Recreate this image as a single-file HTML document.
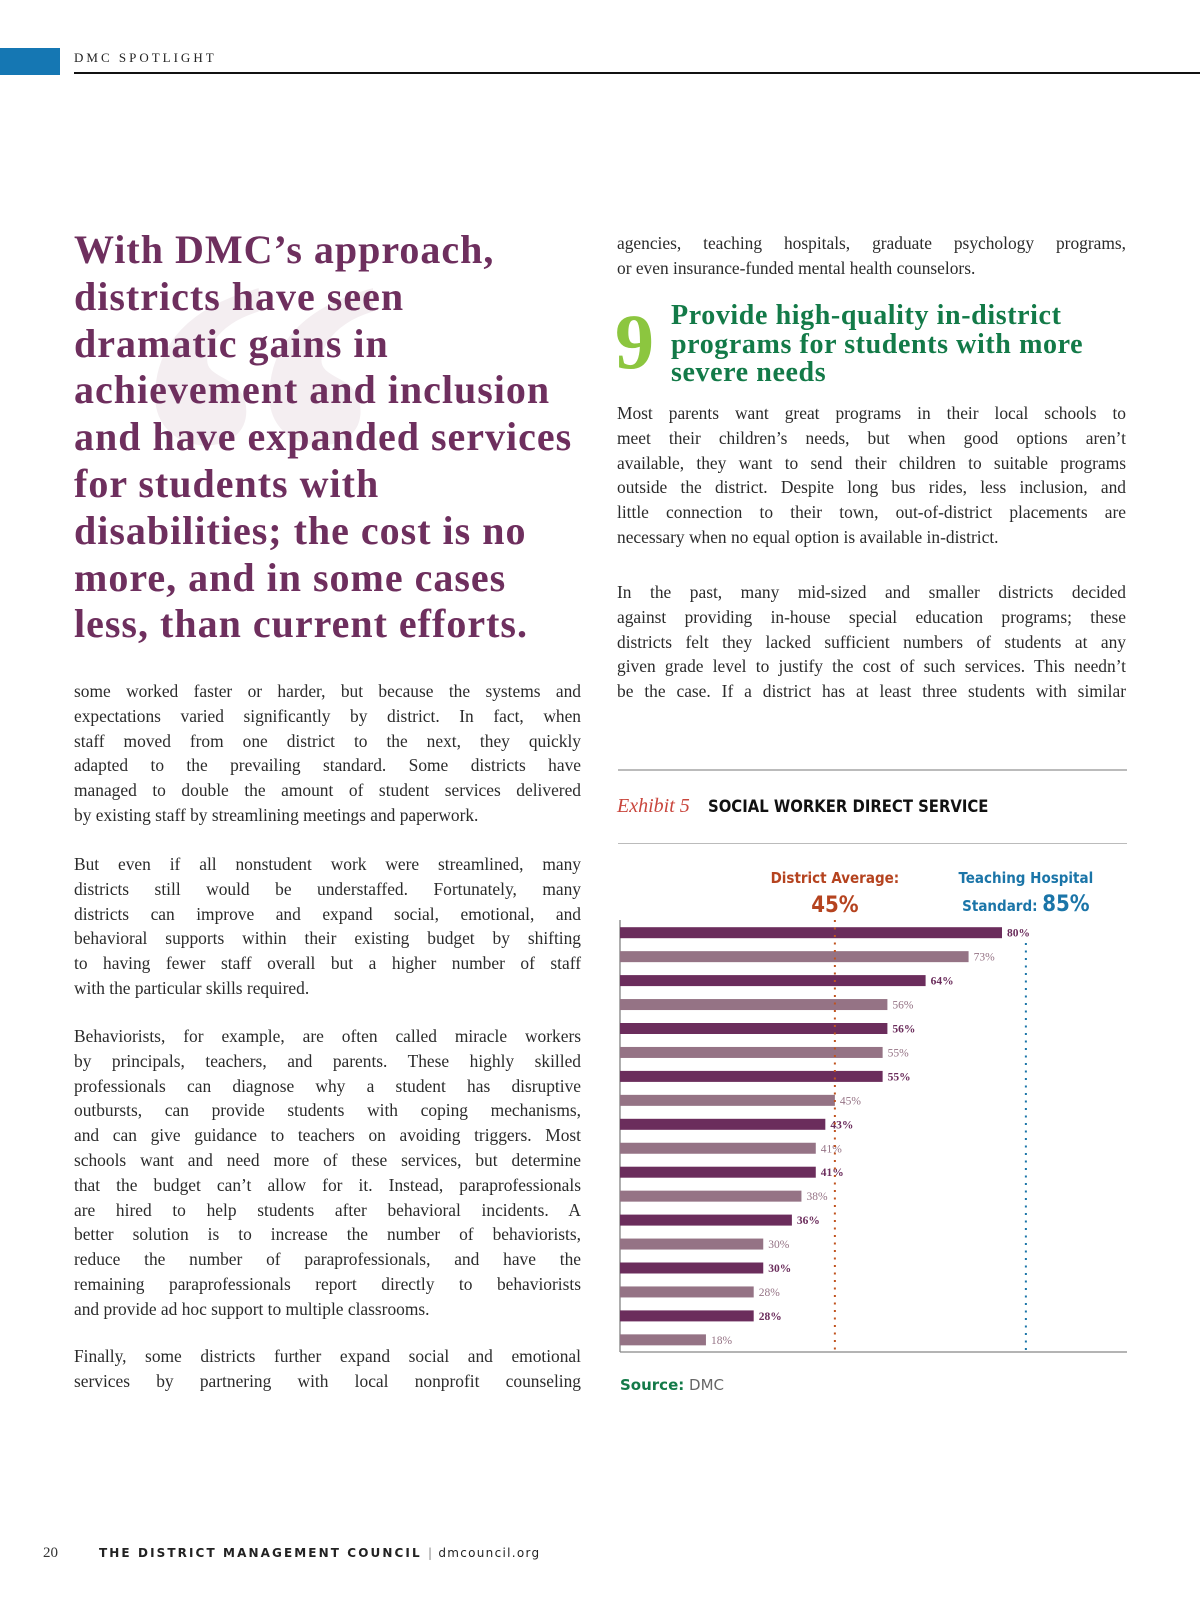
<!DOCTYPE html>
<html><head><meta charset="utf-8"><style>
*{margin:0;padding:0;box-sizing:border-box}
body{width:1200px;height:1606px;background:#fff;position:relative;overflow:hidden;font-family:"Liberation Serif",serif;color:#2b2b2b}
.abs{position:absolute}
.ln{white-space:nowrap;text-align:justify;text-align-last:justify;height:24.8px;line-height:24.8px;font-size:17.4px}
.ln.l{text-align-last:left}
.q{font-weight:bold;font-size:40px;color:#6e2f5e;line-height:46.8px;white-space:nowrap;letter-spacing:1px}
.sans{font-family:"DejaVu Sans","Liberation Sans",sans-serif}
</style></head><body>
<div class="abs" style="left:0;top:48px;width:60px;height:27px;background:#1577b3"></div>
<div class="abs" style="left:74px;top:50px;font-size:13px;letter-spacing:3px;color:#222">DMC SPOTLIGHT</div>
<div class="abs" style="left:74px;top:72px;width:1126px;height:2px;background:#111"></div>

<div class="abs" style="left:130px;top:200px;font-size:520px;line-height:1;color:#f4eef1;font-weight:bold">“</div>
<div class="abs" style="left:74px;top:227px">
<div class="q">With DMC’s approach,</div><div class="q">districts have seen</div><div class="q">dramatic gains in</div><div class="q">achievement and inclusion</div><div class="q">and have expanded services</div><div class="q">for students with</div><div class="q">disabilities; the cost is no</div><div class="q">more, and in some cases</div><div class="q">less, than current efforts.</div>
</div>

<div class="abs" style="left:74px;width:507px;top:0">
<div class="abs" style="top:679px;width:507px">
<div class="ln">some worked faster or harder, but because the systems and</div>
<div class="ln">expectations varied significantly by district. In fact, when</div>
<div class="ln">staff moved from one district to the next, they quickly</div>
<div class="ln">adapted to the prevailing standard. Some districts have</div>
<div class="ln">managed to double the amount of student services delivered</div>
<div class="ln l">by existing staff by streamlining meetings and paperwork.</div></div>
<div class="abs" style="top:852px;width:507px">
<div class="ln">But even if all nonstudent work were streamlined, many</div>
<div class="ln">districts still would be understaffed. Fortunately, many</div>
<div class="ln">districts can improve and expand social, emotional, and</div>
<div class="ln">behavioral supports within their existing budget by shifting</div>
<div class="ln">to having fewer staff overall but a higher number of staff</div>
<div class="ln l">with the particular skills required.</div></div>
<div class="abs" style="top:1024px;width:507px">
<div class="ln">Behaviorists, for example, are often called miracle workers</div>
<div class="ln">by principals, teachers, and parents. These highly skilled</div>
<div class="ln">professionals can diagnose why a student has disruptive</div>
<div class="ln">outbursts, can provide students with coping mechanisms,</div>
<div class="ln">and can give guidance to teachers on avoiding triggers. Most</div>
<div class="ln">schools want and need more of these services, but determine</div>
<div class="ln">that the budget can’t allow for it. Instead, paraprofessionals</div>
<div class="ln">are hired to help students after behavioral incidents. A</div>
<div class="ln">better solution is to increase the number of behaviorists,</div>
<div class="ln">reduce the number of paraprofessionals, and have the</div>
<div class="ln">remaining paraprofessionals report directly to behaviorists</div>
<div class="ln l">and provide ad hoc support to multiple classrooms.</div></div>
<div class="abs" style="top:1344px;width:507px">
<div class="ln">Finally, some districts further expand social and emotional</div>
<div class="ln">services by partnering with local nonprofit counseling</div></div>
</div>

<div class="abs" style="left:617px;width:509px;top:0">
<div class="abs" style="top:231px;width:509px">
<div class="ln">agencies, teaching hospitals, graduate psychology programs,</div>
<div class="ln l">or even insurance-funded mental health counselors.</div></div>
<div class="abs" style="left:-2px;top:302px;font-size:78px;font-weight:bold;color:#8cc63f;line-height:80px">9</div>
<div class="abs" style="left:54px;top:302px;font-size:28px;letter-spacing:0.6px;font-weight:bold;color:#137a48;line-height:28.7px;white-space:nowrap">Provide high-quality in-district<br>programs for students with more<br>severe needs</div>
<div class="abs" style="top:401px;width:509px">
<div class="ln">Most parents want great programs in their local schools to</div>
<div class="ln">meet their children’s needs, but when good options aren’t</div>
<div class="ln">available, they want to send their children to suitable programs</div>
<div class="ln">outside the district. Despite long bus rides, less inclusion, and</div>
<div class="ln">little connection to their town, out-of-district placements are</div>
<div class="ln l">necessary when no equal option is available in-district.</div></div>
<div class="abs" style="top:580px;width:509px">
<div class="ln">In the past, many mid-sized and smaller districts decided</div>
<div class="ln">against providing in-house special education programs; these</div>
<div class="ln">districts felt they lacked sufficient numbers of students at any</div>
<div class="ln">given grade level to justify the cost of such services. This needn’t</div>
<div class="ln">be the case. If a district has at least three students with similar</div></div>
</div>

<div class="abs" style="left:618px;top:769px;width:509px;height:2px;background:#bbb"></div>
<div class="abs" style="left:617px;top:795px;font-size:20px;font-style:italic;color:#c9463d">Exhibit 5</div>
<div class="abs" style="left:708px;top:797px;font-size:16.5px;font-weight:bold;color:#111;font-family:'DejaVu Sans Condensed','Liberation Sans',sans-serif">SOCIAL WORKER DIRECT SERVICE</div>
<div class="abs" style="left:618px;top:843px;width:509px;height:1px;background:#bbb"></div>

<svg class="abs" id="chart" style="left:0;top:0" width="1200" height="1606"></svg>

<div class="abs sans" style="left:620px;top:1376px;font-size:15px;color:#666"><b style="color:#137a48">Source:</b> DMC</div>

<div class="abs" style="left:43px;top:1545px;font-size:15px;color:#333">20</div>
<div class="abs sans" style="left:99px;top:1546px;font-size:12px;font-weight:bold;letter-spacing:2.1px;color:#222;white-space:nowrap">THE DISTRICT MANAGEMENT COUNCIL <span style="font-weight:normal;color:#888;letter-spacing:0">|</span> <span style="font-weight:normal;letter-spacing:1.3px">dmcouncil.org</span></div>

<script>
const values=[80,73,64,56,56,55,55,45,43,41,41,38,36,30,30,28,28,18];
const shades=["dark","light","dark","light","dark","light","dark","light","dark","light","dark","light","dark","light","dark","light","dark","light"];
const districtAvg=45;
const hospitalStd=85;
const NS="http://www.w3.org/2000/svg";
const svg=document.getElementById('chart');
const x0=620,pxPer=4.775,yTop=932.7,step=23.95,barH=11,axisTop=920,axisBot=1352;
const xs=v=>x0+v*pxPer;
const ys=i=>yTop+i*step;
function mk(t,a){const e=document.createElementNS(NS,t);for(const k in a)e.setAttribute(k,a[k]);svg.appendChild(e);return e;}
const ax=mk('line',{x1:x0,y1:axisTop,x2:x0,y2:axisBot,stroke:'#777','stroke-width':1.2});


const bx=mk('line',{x1:x0,y1:axisBot,x2:1127,y2:axisBot,stroke:'#888','stroke-width':1.2});


values.forEach((v,i)=>{
  const c=shades[i]==='dark'?'#6b2d5c':'#957385';
  const r=mk('rect',{x:x0,y:ys(i)-barH/2,width:xs(v)-x0,height:barH,fill:c});
  
  
  const t=mk('text',{x:xs(v)+5,y:ys(i)+4,fill:c,'font-size':11.5,'font-weight':shades[i]==='dark'?'bold':'normal','font-family':'Liberation Serif, serif'});
  t.textContent=v+'%';
  
  
});
const l1=mk('line',{x1:xs(districtAvg),y1:axisTop,x2:xs(districtAvg),y2:axisBot,stroke:'#c0531f','stroke-width':2,'stroke-dasharray':'2 5.5'});


const l2=mk('line',{x1:xs(hospitalStd),y1:943,x2:xs(hospitalStd),y2:axisBot,stroke:'#1b75a8','stroke-width':2,'stroke-dasharray':'2 5.5'});


function lab(txt,x,y,size,col,name){const t=mk('text',{x:x,y:y,'text-anchor':'middle',fill:col,'font-size':size,'font-weight':'bold','font-family':'DejaVu Sans Condensed, DejaVu Sans, sans-serif'});t.textContent=txt;return t;}
lab('District Average:',xs(districtAvg),883,15,'#b5431f','district-average-label');
lab(districtAvg+'%',xs(districtAvg),912,22,'#b5431f','district-average-value');
lab('Teaching Hospital',xs(hospitalStd),883,15,'#1b75a8','hospital-standard-label');
const t2=lab('',xs(hospitalStd),911,15,'#1b75a8','hospital-standard-value');
t2.innerHTML='Standard: <tspan font-size="22">'+hospitalStd+'%</tspan>';
</script>
</body></html>
